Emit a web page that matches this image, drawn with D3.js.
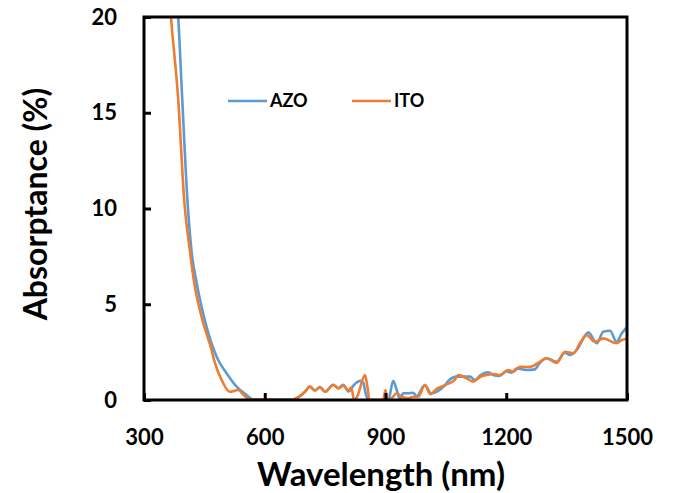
<!DOCTYPE html>
<html>
<head>
<meta charset="utf-8">
<script src="https://cdn.jsdelivr.net/npm/d3@7"></script>
<style>
  body { margin: 0; background: #fff; }
  text { font-family: Lato, "Open Sans", sans-serif; font-weight: bold; fill: #000; }
</style>
</head>
<body>
<div id="chart"></div>
<script>
// Data (wavelength in nm, absorptance in %)
var seriesNames = ["AZO", "ITO"];
var seriesColors = ["#5B9BD5", "#ED7D31"];

var azoWavelength = [380, 385, 395, 408, 418, 431, 449, 474, 484, 505, 530, 555, 571, 600, 640, 670,
  700, 712, 725, 737, 750, 770, 783, 795, 808, 822, 837, 845, 849, 857, 907, 919, 928, 936, 944,
  957, 969, 977, 998, 1013, 1027, 1048, 1056, 1077, 1093, 1110, 1122, 1135, 1155, 1168, 1181,
  1201, 1213, 1226, 1251, 1271, 1284, 1300, 1325, 1346, 1358, 1375, 1404, 1425, 1441, 1458,
  1474, 1487, 1500];
var azoValues = [21.5, 20, 15.7, 10.4, 7.8, 6.1, 4.35, 2.6, 2.1, 1.4, 0.7, 0.26, 0.03, 0.02, 0.02, 0.03,
  0.43, 0.7, 0.5, 0.68, 0.43, 0.8, 0.62, 0.8, 0.45, 0.8, 1.0, 0.9, 0.5, 0, 0, 1.0, 0.52, 0.02, 0.35,
  0.35, 0.38, 0.2, 0.78, 0.35, 0.43, 0.78, 1.0, 1.22, 1.22, 1.22, 1.04, 1.28, 1.45, 1.3, 1.25,
  1.5, 1.43, 1.65, 1.57, 1.6, 1.95, 2.18, 2.0, 2.47, 2.35, 2.61, 3.53, 2.96, 3.57, 3.62,
  3.04, 3.48, 3.8];

var itoWavelength = [360, 367, 385, 400, 414, 425, 443, 468, 474, 493, 513, 534, 548, 563, 600, 640, 670,
  700, 712, 725, 737, 750, 770, 783, 795, 808, 815, 822, 830, 849, 855, 860, 894, 900, 904, 915,
  928, 940, 957, 969, 981, 998, 1011, 1027, 1048, 1072, 1081, 1102, 1118, 1135, 1151, 1168, 1184,
  1205, 1218, 1234, 1251, 1267, 1284, 1300, 1325, 1346, 1367, 1383, 1400, 1420, 1441, 1474,
  1487, 1500];
var itoValues = [22, 20, 15.7, 10.4, 7.8, 6.1, 4.35, 2.6, 2.1, 1.04, 0.43, 0.52, 0.25, 0.02, 0.02, 0.01, 0.03,
  0.43, 0.7, 0.5, 0.66, 0.43, 0.78, 0.6, 0.75, 0.5, 0.65, 0, 0.2, 1.3, 0.7, 0, 0, 0.52, 0, 0.09,
  0.35, 0.17, 0.09, 0.17, 0.17, 0.78, 0.3, 0.58, 0.78, 1.05, 1.3, 1.13, 0.96, 1.2, 1.3, 1.36, 1.3,
  1.57, 1.48, 1.74, 1.72, 1.78, 2.0, 2.18, 1.94, 2.52, 2.43, 2.96, 3.39, 3.04, 3.22, 2.96,
  3.13, 3.2];

var xTicks = [300, 600, 900, 1200, 1500];
var yTicks = [0, 5, 10, 15, 20];

// Size of svg and plot box
var width = 674, height = 493;
var margin = {top: 17, right: 47, bottom: 93, left: 144};
var plotW = width - margin.left - margin.right;
var plotH = height - margin.top - margin.bottom;

var x = d3.scaleLinear().domain([300, 1500]).range([0, plotW]);
var y = d3.scaleLinear().domain([0, 20]).range([plotH, 0]);

var svg = d3.select("#chart").append("svg")
  .attr("width", width)
  .attr("height", height);

var g = svg.append("g")
  .attr("transform", "translate(" + margin.left + "," + margin.top + ")");

g.append("clipPath").attr("id", "plot-clip")
  .append("rect").attr("width", plotW).attr("height", plotH);

// --- series lines ---
var series = [
  {name: seriesNames[0], color: seriesColors[0], xs: azoWavelength, ys: azoValues},
  {name: seriesNames[1], color: seriesColors[1], xs: itoWavelength, ys: itoValues}
];

var line = d3.line()
  .x(function(d) { return x(d[0]); })
  .y(function(d) { return y(d[1]); })
  .curve(d3.curveMonotoneX);

g.append("g").attr("clip-path", "url(#plot-clip)")
  .selectAll("path")
  .data(series)
  .join("path")
  .attr("fill", "none")
  .attr("stroke", function(s) { return s.color; })
  .attr("stroke-width", 2.6)
  .attr("stroke-linejoin", "round")
  .attr("d", function(s) { return line(d3.zip(s.xs, s.ys)); });

// --- axes (ticks point inside) ---
var xAxis = d3.axisBottom(x).tickValues(xTicks).tickFormat(d3.format("d"))
  .tickSizeInner(-7).tickSizeOuter(0).tickPadding(29);
var yAxis = d3.axisLeft(y).tickValues(yTicks).tickFormat(d3.format("d"))
  .tickSizeInner(-7).tickSizeOuter(0).tickPadding(27);

var gx = g.append("g").attr("transform", "translate(0," + plotH + ")").call(xAxis);
var gy = g.append("g").call(yAxis);

[gx, gy].forEach(function(a) {
  a.selectAll("line").attr("stroke", "#000").attr("stroke-width", 3);
  a.select(".domain").remove();
  a.selectAll("text").style("font-size", "22px");
});

// frame round the plot
g.append("rect")
  .attr("width", plotW)
  .attr("height", plotH)
  .attr("fill", "none")
  .attr("stroke", "#000")
  .attr("stroke-width", 3);

// --- titles ---
svg.append("text")
  .attr("x", 381)
  .attr("y", 486)
  .attr("text-anchor", "middle")
  .style("font-size", "33px")
  .text("Wavelength (nm)");

svg.append("text")
  .attr("transform", "translate(47,204) rotate(-90)")
  .attr("text-anchor", "middle")
  .style("font-size", "32px")
  .text("Absorptance (%)");

// --- legend ---
var legend = svg.append("g").selectAll("g")
  .data(series)
  .join("g")
  .attr("transform", function(s, i) { return "translate(" + (228 + i * 124) + ",101)"; });

legend.append("line")
  .attr("x1", 0).attr("x2", 39)
  .attr("stroke", function(s) { return s.color; })
  .attr("stroke-width", 2.6);

legend.append("text")
  .attr("x", 42)
  .attr("dy", "0.36em")
  .style("font-size", "18px")
  .text(function(s) { return s.name; });
</script>
</body>
</html>
